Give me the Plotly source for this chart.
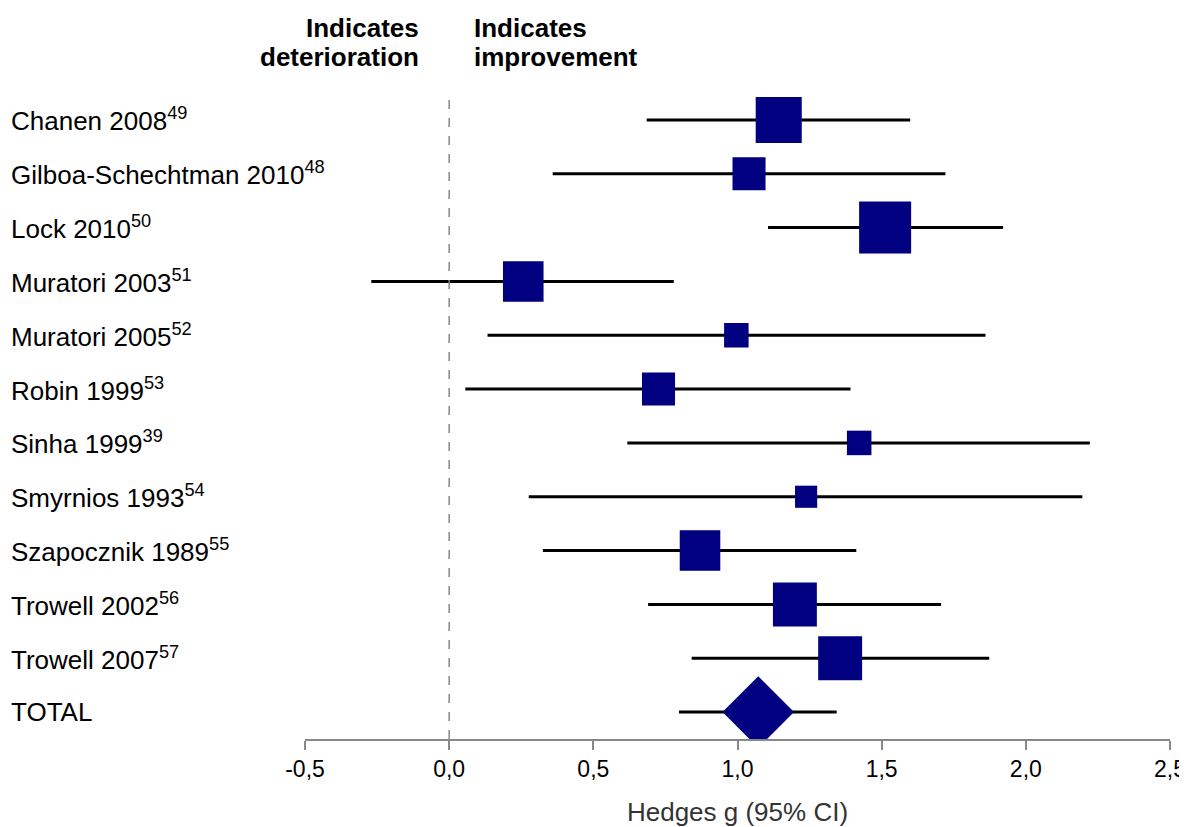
import plotly.graph_objects as go
import numpy as np

studies = ["Chanen 2008", "Gilboa-Schechtman 2010", "Lock 2010", "Muratori 2003",
           "Muratori 2005", "Robin 1999", "Sinha 1999", "Smyrnios 1993",
           "Szapocznik 1989", "Trowell 2002", "Trowell 2007"]
refs = ["49", "48", "50", "51", "52", "53", "39", "54", "55", "56", "57"]
estimate = [1.143, 1.040, 1.512, 0.257, 0.996, 0.726, 1.422, 1.238, 0.870, 1.199, 1.356]
lower = [0.685, 0.359, 1.106, -0.27, 0.133, 0.056, 0.618, 0.276, 0.325, 0.690, 0.841]
upper = [1.599, 1.721, 1.921, 0.779, 1.860, 1.392, 2.222, 2.196, 1.412, 1.706, 1.873]
weight = [13.4, 6.9, 17.1, 10.4, 3.8, 6.9, 3.8, 3.1, 10.4, 12.2, 12.2]

total_label = "TOTAL"
total_est = 1.072
total_lower = 0.797
total_upper = 1.344

tick_vals = [-0.5, 0.0, 0.5, 1.0, 1.5, 2.0, 2.5]
tick_text = [f"{v:.1f}".replace(".", ",") for v in tick_vals]
x_title = "Hedges g (95% CI)"
header_left = ["Indicates", "deterioration"]
header_right = ["Indicates", "improvement"]

NAVY = "#000080"
FONT = "Liberation Sans, Arial, sans-serif"

n = len(studies)
rows = list(range(n))
total_row = n

fig = go.Figure()

# CI lines
for i in rows:
    fig.add_trace(go.Scatter(x=[lower[i], upper[i]], y=[i, i], mode="lines",
                             line=dict(color="black", width=3), showlegend=False,
                             hoverinfo="skip"))
fig.add_trace(go.Scatter(x=[total_lower, total_upper], y=[total_row, total_row], mode="lines",
                         line=dict(color="black", width=3), showlegend=False, hoverinfo="skip"))

# squares sized by weight (area proportional to weight)
sizes = [12.58 * np.sqrt(w) for w in weight]
fig.add_trace(go.Scatter(x=estimate, y=rows, mode="markers",
                         marker=dict(symbol="square", size=sizes, color=NAVY, opacity=1,
                                     line=dict(width=0)),
                         showlegend=False))
fig.add_trace(go.Scatter(x=[total_est], y=[total_row], mode="markers",
                         marker=dict(symbol="diamond", size=55, color=NAVY, opacity=1,
                                     line=dict(width=0)),
                         showlegend=False))

# null line
fig.add_shape(type="line", xref="x", yref="paper", x0=0, x1=0, y0=0, y1=1,
              line=dict(color="#888888", width=1.5, dash="dash"))

# page is offset by 8px body margin; figure coordinates = page - 8
OFF = 8
PLOT_L, PLOT_W, PLOT_T, PLOT_H = 305 - OFF, 865, 93 - OFF, 646
FIG_W, FIG_H = 1187 - OFF, 827 - OFF
def px_to_paper_x(px):
    return (px - OFF - PLOT_L) / PLOT_W
def px_to_paper_y(py):
    return 1 + (PLOT_T - (py - OFF)) / PLOT_H

annotations = []
labels = [f"{s}<sup>{r}</sup>" for s, r in zip(studies, refs)] + [total_label]
for i, lab in enumerate(labels):
    annotations.append(dict(x=px_to_paper_x(9), xref="paper", y=i, yref="y",
                            text=lab, showarrow=False, xanchor="left", yanchor="middle",
                            font=dict(family=FONT, size=26, color="black")))

for line_text, py in zip(header_left, [28, 57]):
    annotations.append(dict(x=px_to_paper_x(421), xref="paper", y=px_to_paper_y(py), yref="paper",
                            text=f"<b>{line_text}</b>", showarrow=False, xanchor="right",
                            yanchor="middle", font=dict(family=FONT, size=26, color="black")))
for line_text, py in zip(header_right, [28, 57]):
    annotations.append(dict(x=px_to_paper_x(472), xref="paper", y=px_to_paper_y(py), yref="paper",
                            text=f"<b>{line_text}</b>", showarrow=False, xanchor="left",
                            yanchor="middle", font=dict(family=FONT, size=26, color="black")))

fig.update_layout(
    width=FIG_W, height=FIG_H,
    margin=dict(l=PLOT_L, r=FIG_W - PLOT_L - PLOT_W,
                t=PLOT_T, b=FIG_H - PLOT_T - PLOT_H, autoexpand=False),
    plot_bgcolor="white", paper_bgcolor="white",
    annotations=annotations,
    font=dict(family=FONT),
)
fig.update_xaxes(range=[-0.5, 2.5], tickvals=tick_vals, ticktext=tick_text,
                 showgrid=False, zeroline=False, showline=True, linecolor="#888888",
                 linewidth=1.5, ticks="outside", ticklen=9, tickcolor="#888888", tickwidth=1.5,
                 tickfont=dict(family=FONT, size=23, color="black"),
                 title=dict(text=x_title, font=dict(family=FONT, size=26, color="#333333"),
                            standoff=26),
                 automargin=False)
fig.update_yaxes(range=[n + 0.5, -0.5], showticklabels=False, showgrid=False,
                 zeroline=False, showline=False, ticks="", automargin=False)

fig.write_html("out.html")
